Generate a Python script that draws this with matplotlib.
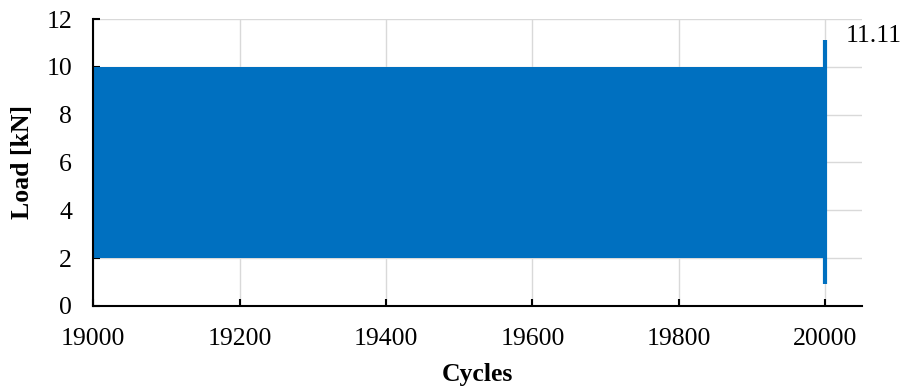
import numpy as np
import matplotlib.pyplot as plt

plt.rcParams['font.family'] = ['Liberation Serif', 'DejaVu Serif']

# load envelope over the cycle range (kN)
cycles = [19000, 20000]
load_min = [2.0, 2.0]
load_max = [10.0, 10.0]

# last cycle before failure
last_cycle = 20000
last_min = 0.92
last_max = 11.11

blue = '#0070C0'
fs = 18.5

fig = plt.figure(figsize=(9.05, 3.91), dpi=100)
ax = fig.add_axes([0.1028, 0.2174, 0.8497, 0.7340])

ax.fill_between(cycles, load_min, load_max, color=blue, lw=0, zorder=2)
ax.vlines(last_cycle, last_min, last_max, color=blue, lw=3, zorder=3)
ax.text(last_cycle + 28, last_max + 0.2, f'{last_max:.2f}', fontsize=fs,
        ha='left', va='center')

ax.set_xlim(19000, 20050)
ax.set_ylim(0, 12)
ax.set_xticks(np.arange(19000, 20001, 200))
ax.set_yticks(np.arange(0, 13, 2))
ax.grid(True, color='#d9d9d9', lw=1)
ax.set_axisbelow(True)
for s in ['top', 'right']:
    ax.spines[s].set_visible(False)
for s in ['left', 'bottom']:
    ax.spines[s].set_color('black')
    ax.spines[s].set_linewidth(1.5)
ax.tick_params(direction='in', length=5, width=1.5, labelsize=fs)
ax.tick_params(axis='y', pad=15)
ax.tick_params(axis='x', pad=16)

ax.set_xlabel('Cycles', fontsize=fs, fontweight='bold', labelpad=9)
ax.set_ylabel('Load [kN]', fontsize=fs, fontweight='bold', labelpad=9)

fig.savefig('out.png', dpi=100)
